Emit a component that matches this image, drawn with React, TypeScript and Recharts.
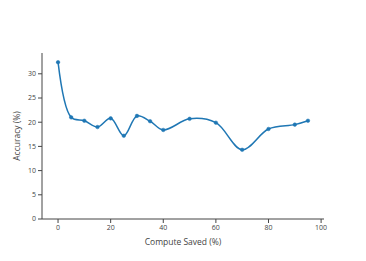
import { LineChart, Line, XAxis, YAxis } from "recharts";

const computeSaved = [0, 5, 10, 15, 20, 25, 30, 35, 40, 50, 60, 70, 80, 90, 95];
const accuracy = [32.4, 21.0, 20.3, 19.0, 20.8, 17.2, 21.3, 20.2, 18.4, 20.7, 19.9, 14.3, 18.6, 19.5, 20.3];
const xTicks = [0, 20, 40, 60, 80, 100];
const yTicks = [0, 5, 10, 15, 20, 25, 30];

const data = computeSaved.map((x, i) => ({ x, acc: accuracy[i] }));

const FONT = '"Open Sans", sans-serif';
const AXIS = "#444";

// plotly-like spline: catmull-rom tangents weighted by segment length
function tangent(prev: number[], cur: number[], next: number[]) {
  const d1x = prev[0] - cur[0];
  const d1y = prev[1] - cur[1];
  const d2x = next[0] - cur[0];
  const d2y = next[1] - cur[1];
  const d1a = Math.pow(d1x * d1x + d1y * d1y, 0.25);
  const d2a = Math.pow(d2x * d2x + d2y * d2y, 0.25);
  const numx = d2a * d2a * d1x - d1a * d1a * d2x;
  const numy = d2a * d2a * d1y - d1a * d1a * d2y;
  const den1 = 3 * d2a * (d1a + d2a);
  const den2 = 3 * d1a * (d1a + d2a);
  return [
    [cur[0] + (den1 && numx / den1), cur[1] + (den1 && numy / den1)],
    [cur[0] - (den2 && numx / den2), cur[1] - (den2 && numy / den2)],
  ];
}

function splineCurve(context: any) {
  let pts: number[][] = [];
  return {
    areaStart() {},
    areaEnd() {},
    lineStart() {
      pts = [];
    },
    point(x: number, y: number) {
      pts.push([+x, +y]);
    },
    lineEnd() {
      if (!pts.length) return;
      context.moveTo(pts[0][0], pts[0][1]);
      if (pts.length < 3) {
        pts.slice(1).forEach((p) => context.lineTo(p[0], p[1]));
        return;
      }
      const tg: number[][][] = [];
      for (let i = 1; i < pts.length - 1; i++) tg.push(tangent(pts[i - 1], pts[i], pts[i + 1]));
      context.quadraticCurveTo(tg[0][0][0], tg[0][0][1], pts[1][0], pts[1][1]);
      for (let i = 2; i < pts.length - 1; i++) {
        const a = tg[i - 2][1];
        const b = tg[i - 1][0];
        context.bezierCurveTo(a[0], a[1], b[0], b[1], pts[i][0], pts[i][1]);
      }
      const last = tg[pts.length - 3][1];
      const end = pts[pts.length - 1];
      context.quadraticCurveTo(last[0], last[1], end[0], end[1]);
    },
  };
}

export default function App() {
  return (
    <div style={{ position: "absolute", left: 0, top: 0, width: 366, height: 261, background: "#fff", fontFamily: FONT }}>
      <LineChart width={366} height={261} data={data} margin={{ top: 53, right: 42, left: 0, bottom: 0 }}>
        <XAxis
          dataKey="x"
          type="number"
          domain={[-6.1, 101.1]}
          ticks={xTicks}
          allowDataOverflow
          height={42}
          stroke={AXIS}
          tickSize={4}
          tickMargin={2}
          tick={{ fontSize: 7, fill: AXIS, fontFamily: FONT }}
          label={{ value: "Compute Saved (%)", position: "insideBottom", offset: 16, fontSize: 8.5, fill: AXIS, fontFamily: FONT }}
        />
        <YAxis
          type="number"
          domain={[0, 34.3]}
          ticks={yTicks}
          allowDataOverflow
          width={42}
          stroke={AXIS}
          tickSize={4}
          tickMargin={2}
          tick={{ fontSize: 7, fill: AXIS, fontFamily: FONT }}
          label={{ value: "Accuracy (%)", angle: -90, position: "insideLeft", offset: 17, fontSize: 8.5, fill: AXIS, fontFamily: FONT, style: { textAnchor: "middle" } }}
        />
        <Line
          dataKey="acc"
          type={splineCurve as any}
          stroke="#1f77b4"
          strokeWidth={1.5}
          dot={{ r: 1.8, fill: "#1f77b4", stroke: "#1f77b4", strokeWidth: 0.5 }}
          isAnimationActive={false}
        />
      </LineChart>
    </div>
  );
}
